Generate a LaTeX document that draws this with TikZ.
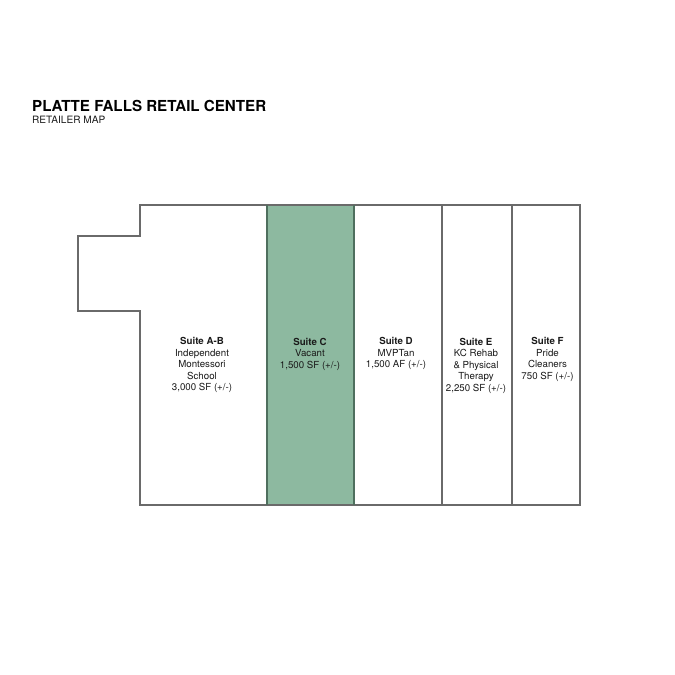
\documentclass[tikz,border=0pt]{standalone}
\usepackage{fontspec}
\setmainfont{TeX Gyre Heros}
\definecolor{vacant}{HTML}{8DB9A0}
\definecolor{wall}{HTML}{6A6A6A}
\definecolor{wallc}{HTML}{4F6F5E}
\definecolor{ink}{HTML}{1A1A1A}
\tikzset{
  suite/.style={align=center,inner sep=0pt,text=ink,font=\fontsize{9.7}{11.6}\selectfont},
  wallline/.style={draw=wall,line width=1.1pt},
}
\newcommand{\hd}[1]{\textbf{#1}}
\begin{document}
\begin{tikzpicture}[x=1pt,y=-1pt]
\useasboundingbox (0,0) rectangle (675,675);
\fill[white] (0,0) rectangle (675,675);
\node[anchor=base west,inner sep=0pt,text=black,font=\fontsize{15.15}{18}\selectfont\bfseries] (title) at (32,111.5) {PLATTE FALLS RETAIL CENTER};
\node[anchor=base west,inner sep=0pt,text=ink,font=\fontsize{10.1}{12}\selectfont] (subtitle) at (32,123.5) {RETAILER MAP};
\fill[vacant] (267,205) rectangle (354,505);
\draw[wallline,line join=miter] (140,205) -- (580,205) -- (580,505) -- (140,505) -- (140,311) -- (78,311) -- (78,236) -- (140,236) -- cycle;
\draw[wallline] (442,205) -- (442,505);
\draw[wallline] (512,205) -- (512,505);
\draw[draw=wallc,line width=1.1pt] (267,205) -- (267,505);
\draw[draw=wallc,line width=1.1pt] (354,205) -- (354,505);
\node[suite] (ab) at (202,365.2) {\hd{Suite A-B}\\Independent\\Montessori\\School\\3,000 SF (+/-)};
\node[suite] (c) at (310,354.3) {\hd{Suite C}\\Vacant\\1,500 SF (+/-)};
\node[suite] (d) at (396,353.8) {\hd{Suite D}\\MVPTan\\1,500 AF (+/-)};
\node[suite] (e) at (476,365.8) {\hd{Suite E}\\KC Rehab\\\& Physical\\Therapy\\2,250 SF (+/-)};
\node[suite] (f) at (547.5,359.3) {\hd{Suite F}\\Pride\\Cleaners\\750 SF (+/-)};
\end{tikzpicture}
\end{document}
